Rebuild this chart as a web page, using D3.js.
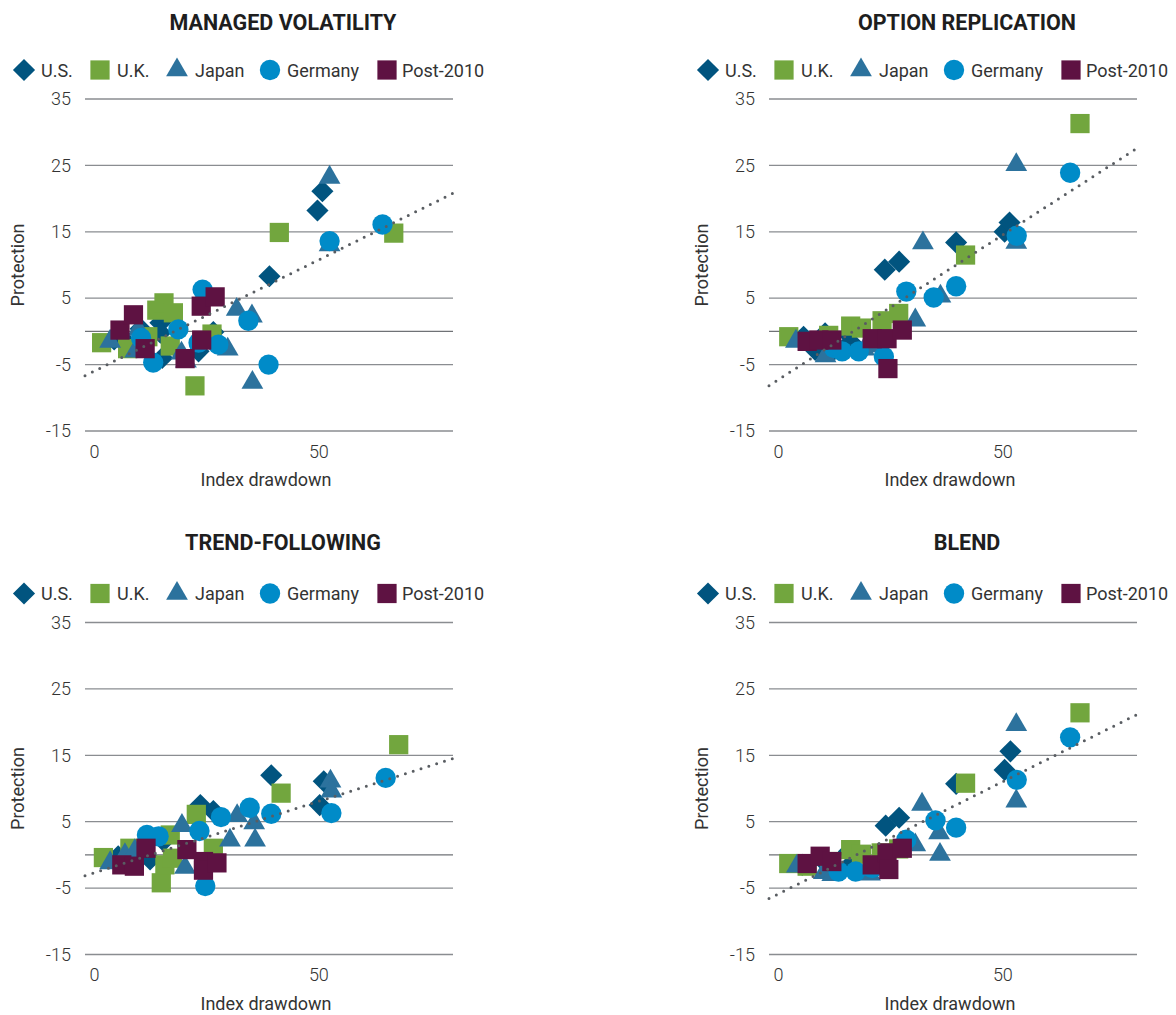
<!DOCTYPE html>
<html><head><meta charset="utf-8">
<script src="https://cdn.jsdelivr.net/npm/d3@7"></script>
<style>body{margin:0;background:#fff;} svg text{font-family:Roboto, "Noto Sans", sans-serif;}</style>
</head><body><svg id="c" width="1176" height="1015"></svg>
<script>
// ---- data ----
const panelTitles = ["MANAGED VOLATILITY", "OPTION REPLICATION", "TREND-FOLLOWING", "BLEND"];
const seriesNames = ["U.S.", "U.K.", "Japan", "Germany", "Post-2010"];
const yTicks = [35, 25, 15, 5, -5, -15];
const xTicks = [0, 50];

const mvUS = [[4.5,-1.2],[7.7,-2.0],[10.4,0.4],[14.8,1.3],[14.8,-0.2],[15.2,-4.0],[23.3,-3.0],[26.6,-0.1],[39.1,8.3],[49.8,18.2],[50.9,21.1]];
const mvUK = [[1.7,-1.7],[7.5,-2.6],[12,-0.8],[14,3.2],[15.6,4.3],[17.7,2.8],[17,-2.2],[22.5,-8.2],[26.3,-0.4],[41.3,14.9],[66.8,14.8]];
const mvJapan = [[3.6,-1.5],[9.2,-3.0],[9.9,0.3],[19.5,-3.3],[20.5,-4.5],[29.8,-2.7],[31.8,3.3],[35.2,2.3],[35.3,-7.7],[52.5,13.0],[52.5,23.2]];
const mvGermany = [[10.5,-1.0],[13.2,-4.7],[18.8,0.3],[23.3,-1.7],[24.2,6.3],[27.7,-2.0],[34.4,1.6],[38.9,-5.0],[52.5,13.6],[64.3,16.1]];
const mvPost = [[5.8,0.2],[8.8,2.5],[11.4,-2.6],[20.3,-4.1],[23.9,3.8],[24,-1.3],[27,5.2]];

const orUS = [[5.7,-0.8],[8.3,-2.8],[10.5,-0.3],[12.6,-2.7],[15.8,-0.5],[16.2,-1.6],[23.8,9.3],[27,10.5],[39.7,13.4],[50.5,15.0],[51.6,16.4]];
const orUK = [[2.4,-0.8],[11.3,-0.6],[16.2,0.8],[18.6,0.5],[23.2,1.6],[26.9,2.7],[41.8,11.5],[67.3,31.3]];
const orJapan = [[4.0,-1.5],[10.6,-3.7],[19.2,-2.7],[21.5,-2.2],[30.6,1.7],[32.3,13.3],[36.2,5.3],[53.1,13.4],[53.1,25.1]];
const orGermany = [[12.5,-2.5],[14.3,-3.0],[18.0,-3.0],[23.6,-3.8],[28.6,6.0],[34.7,5.1],[39.7,6.8],[53.2,14.4],[65.1,23.9]];
const orPost = [[6.5,-1.5],[9.1,-1.3],[12,-1.3],[21,-1.1],[24.3,-1.1],[24.5,-5.6],[27.7,0.2]];

const tfUS = [[5.4,-0.2],[8,0.3],[9.1,-1.2],[12.5,-0.7],[15.5,2.1],[23.7,7.5],[26.6,6.6],[39.5,12.0],[50.3,7.5],[51.2,11.1]];
const tfUK = [[2.1,-0.4],[8,1.0],[15,-4.2],[15.8,-1.5],[17,3.0],[17.5,-0.5],[22.8,6.1],[26.6,1.0],[41.7,9.3],[67.9,16.6]];
const tfJapan = [[3.6,-1.2],[6.9,0],[9.1,0.6],[19.6,4.4],[20.3,-1.9],[30.3,2.2],[31.9,5.9],[35.7,4.8],[35.9,2.2],[52.7,11.1],[52.9,9.6]];
const tfGermany = [[11.8,3.0],[14.4,2.8],[23.5,3.6],[24.8,-4.7],[28.3,5.7],[34.7,7.1],[39.5,6.2],[52.9,6.3],[65,11.6]];
const tfPost = [[6.2,-1.5],[9,-1.7],[11.6,1.0],[20.7,0.8],[24.4,-1.0],[24.4,-2.3],[27.4,-1.2]];

const blUS = [[5.4,-1.5],[9.8,-0.7],[12.1,-2.2],[15.8,0.5],[16.1,-1.5],[24,4.4],[27,5.6],[39.7,10.7],[50.5,12.8],[51.8,15.6]];
const blUK = [[2.4,-1.3],[6.5,-1.7],[11.5,-1.0],[16.2,0.8],[18.6,0.1],[23,0.3],[26.9,0.9],[41.8,10.8],[67.3,21.4]];
const blJapan = [[4.2,-1.7],[10.2,-2.7],[12.1,-3.0],[20.5,-2.9],[30.6,1.5],[32.1,7.6],[35.9,3.3],[36.1,0.05],[53.1,8.1],[53.1,19.6]];
const blGermany = [[13.5,-2.5],[17.3,-2.5],[21,-2.0],[28.6,2.3],[35.1,5.2],[39.7,4.1],[53.2,11.3],[65.1,17.7]];
const blPost = [[6.5,-1.3],[9.4,-0.2],[12,-1.0],[21,-1.5],[24.3,0.3],[24.7,-2.2],[27.7,1.0]];

const trendIntercepts = [-6.0, -7.3, -2.7, -5.9];
const trendSlopes = [0.335, 0.436, 0.215, 0.338];

// ---- build ----
const panelData = [
  [mvUS, mvUK, mvJapan, mvGermany, mvPost],
  [orUS, orUK, orJapan, orGermany, orPost],
  [tfUS, tfUK, tfJapan, tfGermany, tfPost],
  [blUS, blUK, blJapan, blGermany, blPost]
];
const colors = ["#01547f", "#72a63e", "#2c729d", "#008bc8", "#5e1242"];
const shapes = [
  {type: d3.symbolSquare, size: 245, rot: 45},
  {type: d3.symbolSquare, size: 370, rot: 0},
  {type: d3.symbolTriangle, size: 205, rot: 0},
  {type: d3.symbolCircle, size: 325, rot: 0},
  {type: d3.symbolSquare, size: 370, rot: 0}
];
const legendX = [24, 100, 177, 270, 387];
const legendTextX = [41, 117, 195, 287, 402];

const svg = d3.select("#c");
const offX = [0, 684, 0, 684];
const offY = [0, 0, 523.5, 523.5];
const titleShift = [0, 0, -4, -4];
const textCol = "#333";

panelData.forEach((series, p) => {
  const g = svg.append("g").attr("transform", `translate(${offX[p]},${offY[p]})`);
  const x = d3.scaleLinear().domain([-2, 80]).range([85, 453]);
  const y = d3.scaleLinear().domain([-15, 35]).range([431, 99]);

  // title
  g.append("text").attr("x", 283).attr("y", 30 + titleShift[p]).attr("text-anchor", "middle")
    .attr("font-size", 21.5).attr("font-weight", 700).attr("fill", "#1e1e1e")
    .text(panelTitles[p]);

  // legend
  seriesNames.forEach((name, i) => {
    const s = shapes[i];
    g.append("path").attr("d", d3.symbol().type(s.type).size(s.size)())
      .attr("transform", `translate(${legendX[i]},${70}) rotate(${s.rot})`)
      .attr("fill", colors[i]);
    g.append("text").attr("x", legendTextX[i]).attr("y", 76.5)
      .attr("font-size", 18).attr("fill", textCol).text(name);
  });

  // grid
  const grid = yTicks.concat([0]);
  g.selectAll(".grid").data(grid).enter().append("line")
    .attr("x1", x.range()[0]).attr("x2", x.range()[1])
    .attr("y1", d => y(d)).attr("y2", d => y(d))
    .attr("stroke", d => d === 0 ? "#6f7276" : "#8a8d91").attr("stroke-width", 1.3);

  // y axis labels
  const yAxis = d3.axisLeft(y).tickValues(yTicks).tickSize(0).tickPadding(14).tickFormat(d => String(d));
  const ya = g.append("g").attr("transform", `translate(${x.range()[0]},0)`).call(yAxis);
  ya.select(".domain").remove();
  ya.selectAll("text").attr("font-size", 18).attr("fill", textCol).attr("font-family", "Roboto").attr("font-weight", 300);

  // x axis labels
  const xAxis = d3.axisBottom(x).tickValues(xTicks).tickSize(0).tickPadding(14).tickFormat(d => String(d));
  const xa = g.append("g").attr("transform", `translate(0,${y.range()[0]})`).call(xAxis);
  xa.select(".domain").remove();
  xa.selectAll("text").attr("font-size", 18).attr("fill", textCol).attr("font-family", "Roboto").attr("font-weight", 300);

  // axis titles
  g.append("text").attr("x", 266).attr("y", 486).attr("text-anchor", "middle")
    .attr("font-size", 18).attr("fill", textCol).text("Index drawdown");
  g.append("text").attr("transform", `translate(24,265) rotate(-90)`).attr("text-anchor", "middle")
    .attr("font-size", 18).attr("fill", textCol).text("Protection");

  // points
  series.forEach((pts, i) => {
    const s = shapes[i];
    g.selectAll(null).data(pts).enter().append("path")
      .attr("d", d3.symbol().type(s.type).size(s.size)())
      .attr("transform", d => `translate(${x(d[0])},${y(d[1])}) rotate(${s.rot})`)
      .attr("fill", colors[i]);
  });

  // trend line
  const xd = x.domain();
  const line = d3.line().x(d => x(d)).y(d => y(trendIntercepts[p] + trendSlopes[p] * d));
  g.append("path").attr("d", line([xd[0], xd[1] + 0.5]))
    .attr("fill", "none").attr("stroke", "#595d62").attr("stroke-width", 3)
    .attr("stroke-linecap", "round").attr("stroke-dasharray", "0 8.2");
});
</script></body></html>
